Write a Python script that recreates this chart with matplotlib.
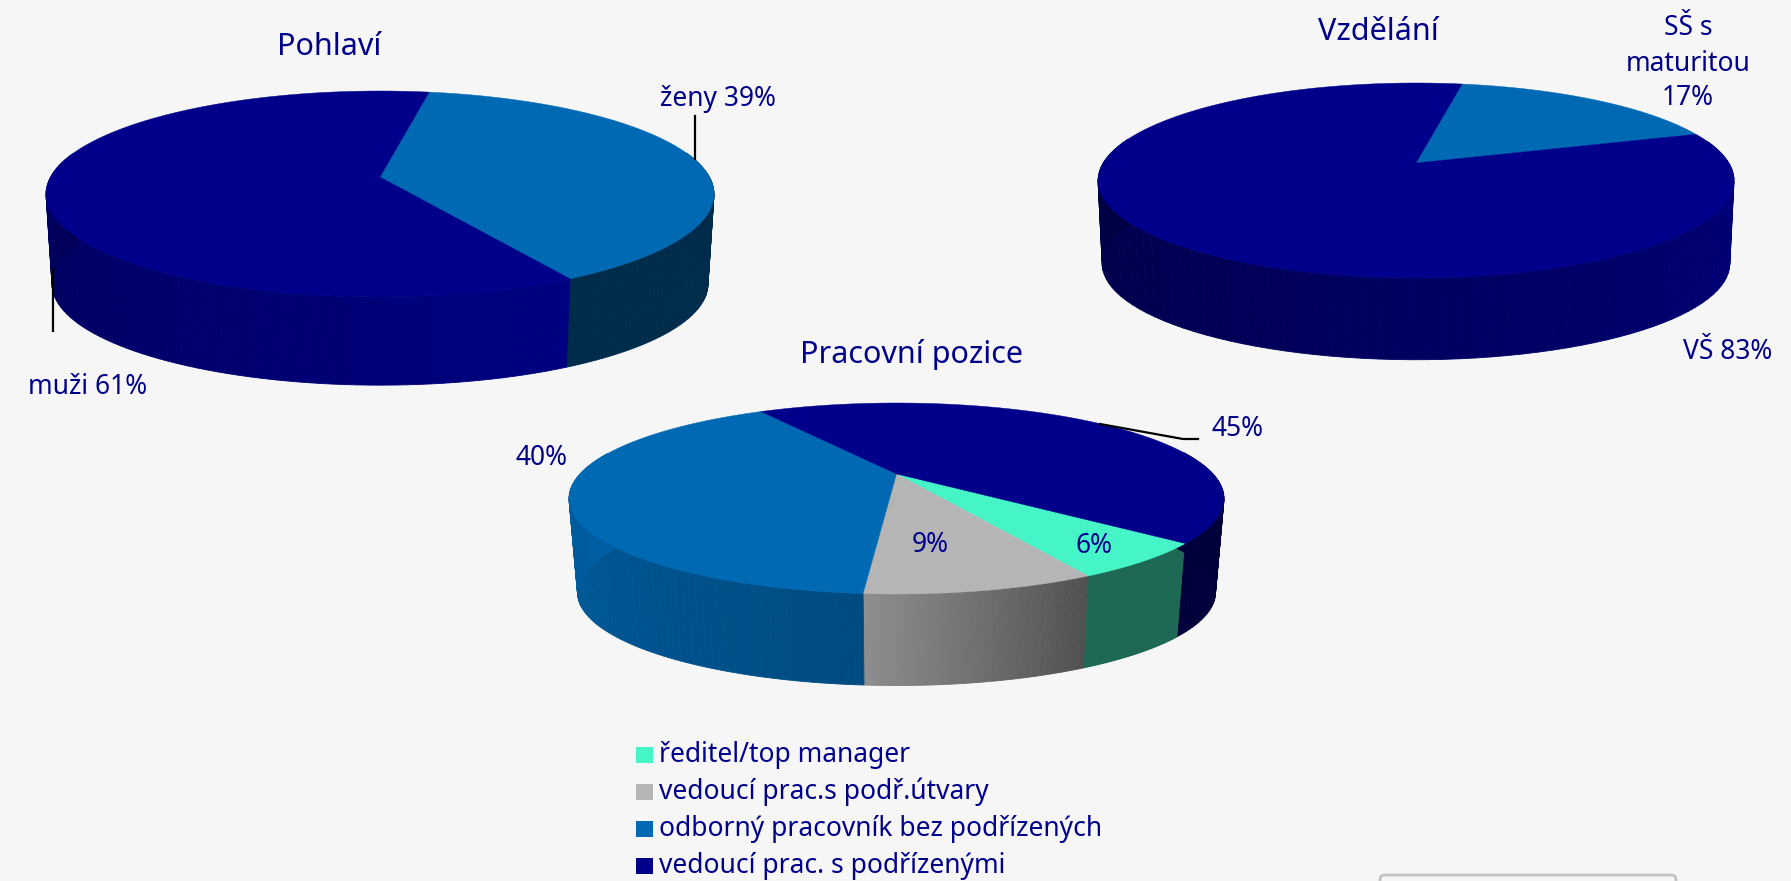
import numpy as np
import matplotlib
matplotlib.use("Agg")
import matplotlib.pyplot as plt
from matplotlib.patches import FancyBboxPatch

# data
pohlavi_values = [39, 61]
vzdelani_values = [17, 83]
pozice_values = [6, 9, 40, 45]
legend_labels = ["ředitel/top manager", "vedoucí prac.s podř.útvary",
                 "odborný pracovník bez podřízených", "vedoucí prac. s podřízenými"]

NAVY = "#00008b"
BLUE = "#0069b4"
TEAL = "#45f5c8"
GREY = "#b5b5b5"
BG = "#f6f6f6"

plt.rcParams["font.family"] = ["Noto Sans", "DejaVu Sans"]
plt.rcParams["font.weight"] = "bold"

fig = plt.figure(figsize=(17.91, 8.81), dpi=100, facecolor=BG)
ax = fig.add_axes([0, 0, 1, 1])
ax.set_xlim(0, 1791)
ax.set_ylim(881, 0)
ax.axis("off")


# circle -> ellipse with a bit of perspective, k moves the apex to the back
def project(theta, cx, cy, a, b, k, r=1.0):
    t = np.radians(theta)
    u = r * np.sin(t)
    v = r * np.cos(t)
    d = 1 + k * v
    x = cx + a * np.sqrt(1 - k ** 2) * u / d
    y = cy - b * ((1 - k ** 2) * v / d + k)
    return x, y


def pie3d(values, start, colors, shades, cx, cy, a, b, k, depth, scale):
    angles = start + np.cumsum([0] + list(values)) * 3.6
    # sides first, every slice in its own gradient
    for i in range(len(values)):
        th = np.linspace(angles[i], angles[i + 1], 121)
        c = np.array(matplotlib.colors.to_rgb(colors[i]))
        for j in range(len(th) - 1):
            mid = (th[j] + th[j + 1]) / 2
            if np.cos(np.radians(mid)) > 0.25:
                continue
            x1, y1 = project(th[j:j + 2], cx, cy, a, b, k)
            x2, y2 = project(th[j:j + 2], cx, cy + depth, a * scale, b * scale, k)
            f = j / (len(th) - 2)
            # light on the left, dark on the right
            col = c * (shades[i][1] + (shades[i][0] - shades[i][1]) * f)
            ax.fill(np.r_[x1, x2[::-1]], np.r_[y1, y2[::-1]], color=col, lw=0.6, zorder=2)
    ax_x, ax_y = project(0, cx, cy, a, b, k, r=0)
    for i in range(len(values)):
        th = np.linspace(angles[i], angles[i + 1], 200)
        x, y = project(th, cx, cy, a, b, k)
        ax.fill(np.r_[ax_x, x], np.r_[ax_y, y], color=colors[i], lw=0.3, zorder=3)


pie3d(pohlavi_values, 10, [BLUE, NAVY], [(0.42, 0.42), (0.45, 0.92)],
      380, 194, 334, 103, 0.165, 90, 0.982)
pie3d(vzdelani_values, 10, [BLUE, NAVY], [(0.42, 0.42), (0.3, 0.92)],
      1416, 180.5, 318, 97.5, 0.18, 83, 0.987)
pie3d(pozice_values, 130.5, [TEAL, GREY, BLUE, NAVY],
      [(0.43, 0.43), (0.78, 0.44), (1.0, 0.72), (0.42, 0.42)],
      896.5, 498.5, 327.5, 95.5, 0.257, 94, 0.974)


def label(x, y, s, size=19, **kw):
    ax.text(x, y, s, color=NAVY, fontsize=size, ha="center", va="center", zorder=6, **kw)


label(329, 47, "Pohlaví", 22)
label(1378, 32, "Vzdělání", 22)
label(912, 355, "Pracovní pozice", 22)
label(718, 99, "ženy 39%")
label(88, 387, "muži 61%")
label(1688, 28, "SŠ s")
label(1688, 64, "maturitou")
label(1688, 98, "17%")
label(1728, 352, "VŠ 83%")
label(1238, 429, "45%")
label(541, 458, "40%")
label(930, 545, "9%")
label(1094, 546, "6%")

ax.plot([695, 695], [116, 159], color="black", lw=1.6, zorder=5)
ax.plot([52.5, 52.5], [269, 331], color="black", lw=1.6, zorder=5)
ax.plot([1100, 1183, 1198], [424, 439, 439], color="black", lw=1.6, zorder=5)

# legend
for i, (name, col) in enumerate(zip(legend_labels, [TEAL, GREY, BLUE, NAVY])):
    yc = 755 + i * 37
    ax.fill([636, 653, 653, 636], [yc - 8, yc - 8, yc + 8, yc + 8], color=col, lw=0, zorder=4)
    ax.text(659, yc, name, color=NAVY, fontsize=19, ha="left", va="center", zorder=6)

# box cut off by the bottom edge
ax.add_patch(FancyBboxPatch((1380, 875), 296, 40, boxstyle="round,pad=0,rounding_size=5",
                            fc=BG, ec="#c4c4c4", lw=2, zorder=4))

fig.savefig("out.png", dpi=100, facecolor=BG)
